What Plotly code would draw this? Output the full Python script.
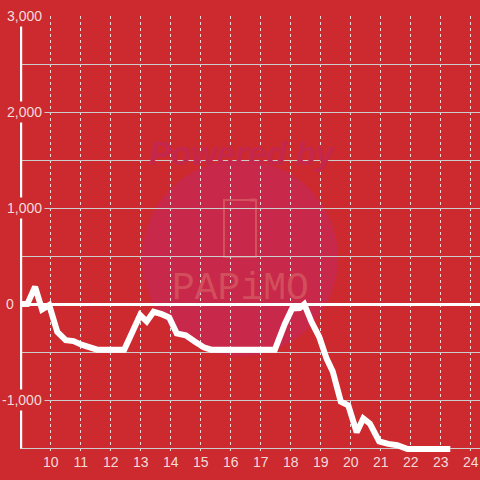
import plotly.graph_objects as go

# ---- data ----
hours = [9.0, 9.22, 9.48, 9.71, 9.95, 10.22, 10.5, 10.76, 11.05, 11.3, 11.55,
         12.45, 12.98, 13.2, 13.43, 13.7, 13.95, 14.2, 14.5, 14.8, 15.1, 15.35,
         17.47, 17.8, 18.05, 18.3, 18.45, 18.7, 18.95, 19.2, 19.4, 19.67, 19.92,
         20.2, 20.42, 20.64, 20.95, 21.25, 21.55, 21.9, 23.32]
values = [0, 0, 180, -55, -10, -290, -375, -385, -425, -450, -475,
          -475, -115, -180, -80, -105, -140, -305, -325, -390, -450, -475,
          -475, -210, -45, -40, 0, -190, -340, -570, -700, -1015, -1055,
          -1335, -1190, -1245, -1430, -1455, -1470, -1510, -1510]

x_ticks = list(range(10, 25))
x_tick_labels = [str(v) for v in x_ticks]
y_ticks = [3000, 2000, 1000, 0, -1000]
y_tick_labels = ["3,000", "2,000", "1,000", "0", "-1,000"]

# ---- styling ----
W = H = 480
L, R, T, B = 20, 0, 16, 28.16
BG = "#CC2A2E"
TXT = "#F3DADA"
FONT = "Liberation Sans, Arial, sans-serif"


def px_x(p):
    return (p - L) / (W - L - R)


def px_y(p):
    return (H - B - p) / (H - T - B)


fig = go.Figure()
fig.add_trace(go.Scatter(
    x=hours, y=values, mode="lines",
    line=dict(color="#FFFFFF", width=6),
    hoverinfo="skip", showlegend=False,
))

shapes = [
    # watermark circle
    dict(type="circle", xref="paper", yref="paper", layer="below",
         x0=px_x(142), x1=px_x(338), y0=px_y(356), y1=px_y(160),
         fillcolor="#C8284A", line=dict(width=0)),
    # watermark phone icon
    dict(type="path", xref="paper", yref="paper", layer="below",
         path=("M {a},{b} L {c},{b} L {c},{d} L {a},{d} Z").format(
             a=px_x(224), b=px_y(257), c=px_x(256), d=px_y(200)),
         line=dict(color="#D4505E", width=2)),
    dict(type="line", xref="paper", yref="paper", layer="below",
         x0=px_x(250), x1=px_x(256), y0=px_y(200), y1=px_y(200),
         line=dict(color="#D4505E", width=3)),
    # y axis line
    dict(type="line", xref="x", yref="y", x0=9, x1=9, y0=-1500, y1=3000,
         line=dict(color="#FFFFFF", width=3)),
]

annotations = [
    dict(text="<b><i>Powered by</i></b>", xref="paper", yref="paper",
         x=px_x(242), y=px_y(133), showarrow=False,
         font=dict(family=FONT, size=33, color="#C5274C")),
    dict(text="PAPiMO", xref="paper", yref="paper",
         x=px_x(240), y=px_y(288), showarrow=False,
         font=dict(family="Liberation Mono, monospace", size=38, color="#D24E5C")),
]
for v, lab in zip(y_ticks, y_tick_labels):
    annotations.append(dict(
        text=lab, xref="paper", yref="y", x=0, y=v,
        xanchor="right", yanchor="middle",
        xshift=(-3 if v == 0 else 25), showarrow=False,
        bgcolor=BG, borderpad=2,
        font=dict(family=FONT, size=14, color=TXT)))

fig.update_layout(
    width=W, height=H,
    margin=dict(l=L, r=R, t=T, b=B, pad=0),
    paper_bgcolor=BG, plot_bgcolor=BG,
    showlegend=False,
    shapes=shapes, annotations=annotations,
    xaxis=dict(range=[8.9767, 24.31], tickvals=x_ticks, ticktext=x_tick_labels,
               showgrid=True, gridcolor="#E8DEDE", gridwidth=1, griddash="dot",
               zeroline=False, showline=False, ticks="",
               tickfont=dict(family=FONT, size=14, color=TXT)),
    yaxis=dict(range=[-1540, 3000], tick0=0, dtick=500,
               showgrid=True, gridcolor="#CCCCCC", gridwidth=1,
               zeroline=True, zerolinecolor="#FFFFFF", zerolinewidth=3,
               showline=False, ticks="", showticklabels=False),
)

fig.write_html("out.html",
               config={"displayModeBar": False},
               post_script="document.body.style.margin='0';"
                           "document.body.style.overflow='hidden';")
